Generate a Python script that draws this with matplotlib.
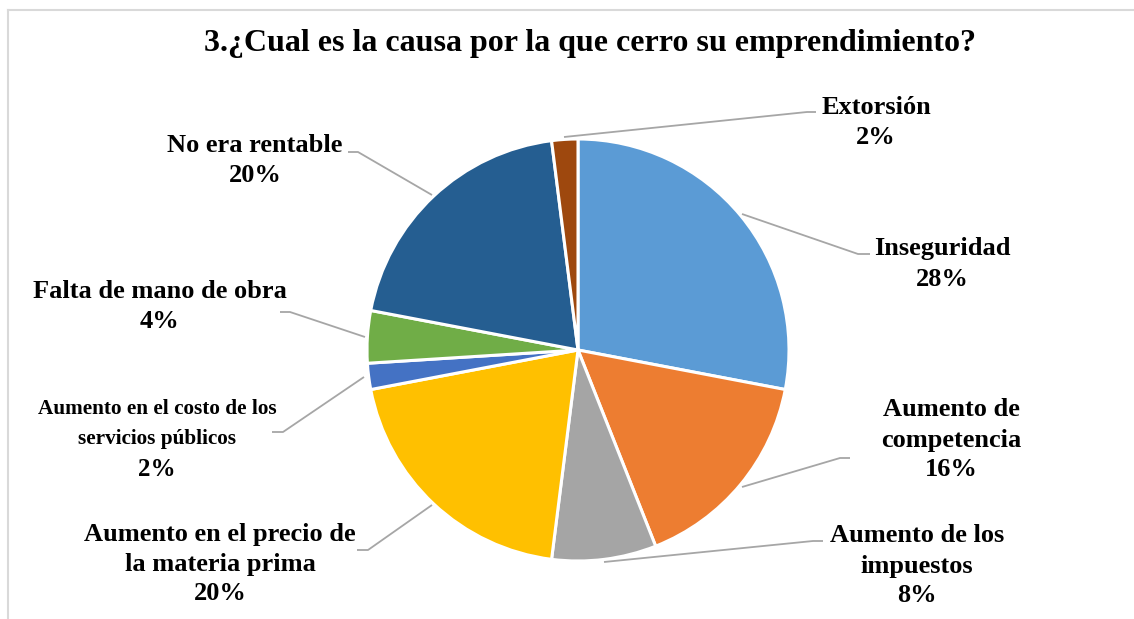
import matplotlib
matplotlib.use("Agg")
import matplotlib.pyplot as plt
from matplotlib.lines import Line2D

title = "3.¿Cual es la causa por la que cerro su emprendimiento?"
categories = ["Inseguridad", "Aumento de\ncompetencia", "Aumento de los\nimpuestos",
              "Aumento en el precio de\nla materia prima",
              "Aumento en el costo de los\nservicios públicos",
              "Falta de mano de obra", "No era rentable", "Extorsión"]
values = [28, 16, 8, 20, 2, 4, 20, 2]
colors = ["#5B9BD5", "#ED7D31", "#A5A5A5", "#FFC000", "#4472C4", "#70AD47", "#255E91", "#9E480E"]

W, H = 1134, 619
fig = plt.figure(figsize=(W / 100, H / 100), dpi=100)
ax = fig.add_axes([0, 0, 1, 1])
ax.set_xlim(0, W)
ax.set_ylim(0, H)
ax.set_aspect("equal")
ax.axis("off")

cx, cy, r = 578, H - 350, 211
ax.pie(values, colors=colors, startangle=90, counterclock=False, center=(cx, cy),
       radius=r, frame=True,
       wedgeprops=dict(edgecolor="white", linewidth=2.2))
ax.set_xlim(0, W)
ax.set_ylim(0, H)
ax.axis("off")

# label layout (pixel coords, y from top): text center, leader path, font sizes
layout = [
    dict(xy=(942, 264), path=[(742, 214), (858, 254), (870, 254)], fs=19, pfs=19),
    dict(xy=(951, 440), path=[(742, 487), (840, 458), (850, 458)], fs=19, pfs=19),
    dict(xy=(917, 566), path=[(604, 562), (813, 541), (823, 541)], fs=19, pfs=19),
    dict(xy=(220, 564), path=[(432, 505), (368, 550), (357, 550)], fs=19, pfs=19),
    dict(xy=(157, 439), path=[(364, 377), (283, 432), (272, 432)], fs=15.3, pfs=18),
    dict(xy=(160, 306), path=[(365, 337), (290, 312), (280, 312)], fs=19, pfs=19),
    dict(xy=(255, 160), path=[(432, 195), (358, 152), (348, 152)], fs=19, pfs=19),
    dict(xy=(876, 122), path=[(564, 137), (807, 112), (816, 112)], fs=19, pfs=19),
]
total = sum(values)
for cat, val, lay in zip(categories, values, layout):
    xs = [p[0] for p in lay["path"]]
    ys = [H - p[1] for p in lay["path"]]
    ax.plot(xs, ys, color="#A6A6A6", lw=1.3, solid_capstyle="butt")
    pct = f"{round(100 * val / total)}%"
    lines_txt = cat.split("\n")
    n = len(lines_txt)
    step = 30
    x0, yc = lay["xy"]
    ytop = yc - step * n / 2
    for i, t in enumerate(lines_txt):
        ax.text(x0, H - (ytop + step * i), t, ha="center", va="center",
                fontsize=lay["fs"], fontweight="bold", family="Liberation Serif")
    ax.text(x0, H - (ytop + step * n), pct, ha="center", va="center",
            fontsize=lay["pfs"], fontweight="bold", family="Liberation Serif")

ax.text(590, H - 43, title, ha="center", va="center", fontsize=23,
        fontweight="bold", family="Liberation Serif")

# chart border (top and left visible)
fig.add_artist(Line2D([8 / W, 1], [1 - 10 / H, 1 - 10 / H], color="#D9D9D9", lw=1.5))
fig.add_artist(Line2D([8 / W, 8 / W], [0, 1 - 10 / H], color="#D9D9D9", lw=1.5))

fig.savefig("out.png", dpi=100)
